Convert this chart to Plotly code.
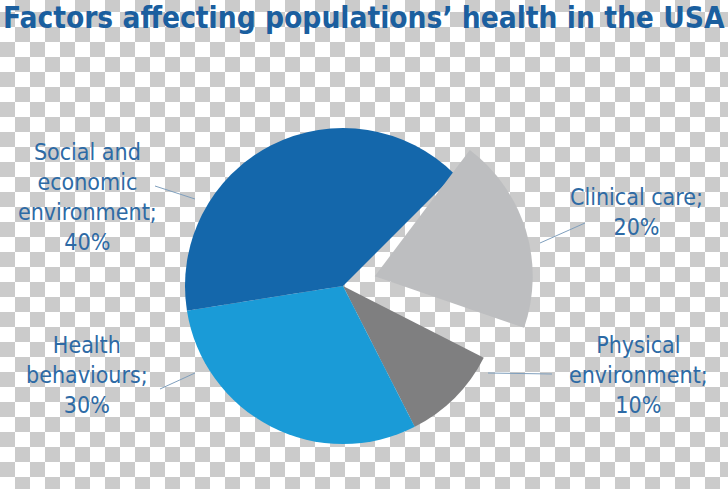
import base64
import plotly.graph_objects as go

W, H = 728, 489

# ---- data ----
labels = ["Clinical care;", "Physical<br>environment;", "Health<br>behaviours;", "Social and<br>economic<br>environment;"]
values = [20, 10, 30, 40]
colors = ["#bdbec0", "#7f7f80", "#1a9bd7", "#1467ab"]
pull_clinical = 0.21

# label placement (pixel centres) and leader lines (pixel endpoints)
label_pos = [(636, 212), (638, 375), (87, 375), (87, 197)]
leaders = [((540, 243), (585, 223)), ((488, 373), (552, 374)),
           ((160, 389), (195, 373)), ((155, 186), (195, 199))]

def px(x, y):
    return x / W, 1 - y / H

# checkerboard background (transparency pattern of the original image)
svg = (
    f'<svg xmlns="http://www.w3.org/2000/svg" width="{W}" height="{H}">'
    '<defs><pattern id="p" width="30" height="30" x="0" y="-3" patternUnits="userSpaceOnUse">'
    '<rect width="30" height="30" fill="#ffffff"/>'
    '<rect x="15" y="0" width="15" height="15" fill="#cbcbcb"/>'
    '<rect x="0" y="15" width="15" height="15" fill="#cbcbcb"/>'
    '</pattern></defs>'
    f'<rect width="{W}" height="{H}" fill="url(#p)"/></svg>'
)
src = "data:image/svg+xml;base64," + base64.b64encode(svg.encode()).decode()

cx, cy, R = 343, 286, 158

def dom(half):
    x0, y1 = px(cx - half, cy - half)
    x1, y0 = px(cx + half, cy + half)
    return dict(x=[x0, x1], y=[y0, y1])

clear = "rgba(0,0,0,0)"
# main pie (clinical slice left empty – it is drawn pulled out below)
fig = go.Figure(go.Pie(
    labels=labels, values=values, sort=False, direction="clockwise",
    rotation=45, textinfo="none", hoverinfo="label+percent",
    marker=dict(colors=[clear] + colors[1:], line=dict(width=0)),
    domain=dom(R), showlegend=False,
))
# pulled-out clinical care slice
fig.add_trace(go.Pie(
    labels=[labels[0], "rest"], values=[values[0], sum(values[1:])], sort=False,
    direction="clockwise", rotation=37, pull=[pull_clinical, 0], textinfo="none",
    hoverinfo="skip", marker=dict(colors=[colors[0], clear], line=dict(width=0)),
    domain=dom(R * (1 + pull_clinical)), showlegend=False,
))

fig.add_layout_image(dict(source=src, xref="paper", yref="paper", x=0, y=1,
                          sizex=1, sizey=1, sizing="stretch", xanchor="left",
                          yanchor="top", layer="below"))

font_lbl = dict(family="DejaVu Sans Condensed, DejaVu Sans", size=23, color="#2d6aa5")
for lab, val, (lx, ly) in zip(labels, values, label_pos):
    ax, ay = px(lx, ly)
    fig.add_annotation(text=f"{lab}<br>{val}%", x=ax, y=ay, xref="paper", yref="paper",
                       showarrow=False, font=font_lbl, align="center",
                       xanchor="center", yanchor="middle")

for (a, b) in leaders:
    xa, ya = px(*a)
    xb, yb = px(*b)
    fig.add_shape(type="line", xref="paper", yref="paper", x0=xa, y0=ya, x1=xb, y1=yb,
                  line=dict(color="#7f9fbd", width=1))

tx, ty = px(364, 18)
fig.add_annotation(text="<b>Factors affecting populations’ health in the USA</b>",
                   x=tx, y=ty, xref="paper", yref="paper", showarrow=False,
                   xanchor="center", yanchor="middle",
                   font=dict(family="DejaVu Sans Condensed, DejaVu Sans", size=29.6, color="#1b5f9f"))

fig.update_layout(width=W, height=H, margin=dict(l=0, r=0, t=0, b=0),
                  paper_bgcolor="#ffffff", plot_bgcolor="#ffffff")
fig.write_html("out.html")
